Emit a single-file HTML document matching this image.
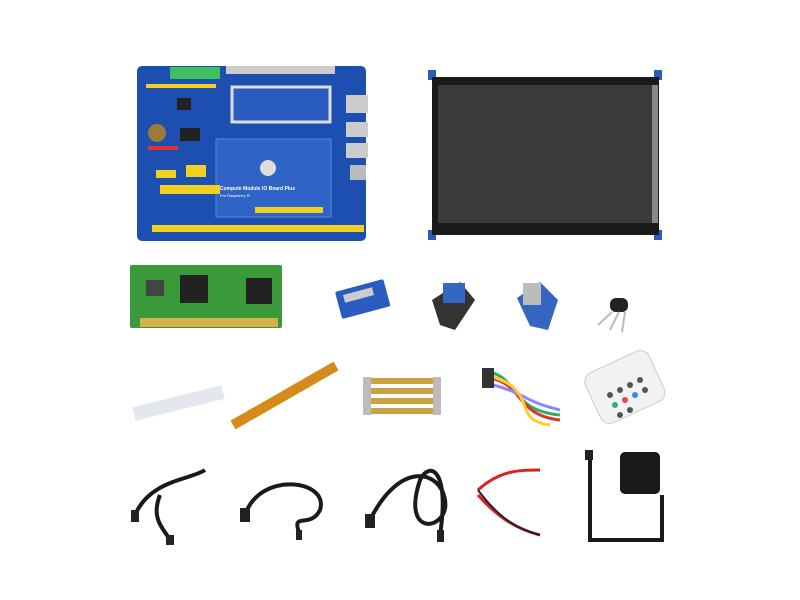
<!DOCTYPE html>
<html><head><style>body{margin:0;background:#fff}svg{display:block}</style></head><body>
<svg width="800" height="600" viewBox="0 0 800 600" xmlns="http://www.w3.org/2000/svg" font-family="Liberation Sans, sans-serif">
<!-- IO board -->
<rect x="137" y="66" width="229" height="175" rx="5" fill="#1d4fb0"/>
<rect x="170" y="67" width="50" height="12" fill="#3fbf5f"/>
<rect x="226" y="66" width="28" height="8" fill="#ccc"/><rect x="253" y="66" width="28" height="8" fill="#ccc"/><rect x="280" y="66" width="28" height="8" fill="#ccc"/><rect x="307" y="66" width="28" height="8" fill="#ccc"/>
<rect x="232" y="87" width="98" height="35" fill="#2a5cc0" stroke="#ddd" stroke-width="3"/>
<rect x="146" y="84" width="70" height="4" fill="#f2d020"/>
<rect x="346" y="95" width="22" height="18" fill="#ccc"/><rect x="346" y="122" width="22" height="15" fill="#ccc"/><rect x="346" y="143" width="22" height="15" fill="#ccc"/><rect x="350" y="165" width="16" height="15" fill="#bbb"/>
<rect x="216" y="139" width="115" height="78" fill="#2f63c6" stroke="#5a86d8"/>
<circle cx="268" cy="168" r="8" fill="#ddd"/>
<circle cx="157" cy="133" r="9" fill="#9c7b3a"/>
<rect x="180" y="128" width="20" height="13" fill="#222"/><rect x="177" y="98" width="14" height="12" fill="#222"/>
<rect x="160" y="185" width="60" height="9" fill="#f2d020"/><rect x="156" y="170" width="20" height="8" fill="#f2d020"/><rect x="186" y="165" width="20" height="12" fill="#f2d020"/>
<rect x="148" y="146" width="30" height="4" fill="#d33"/>
<rect x="255" y="207" width="68" height="6" fill="#f2d020"/>
<rect x="152" y="225" width="212" height="7" fill="#f2d020"/>
<text x="220" y="190" font-size="5" fill="#fff" font-weight="bold">Compute Module IO Board Plus</text>
<text x="220" y="197" font-size="4" fill="#fff">For Raspberry Pi</text>
<!-- display -->
<rect x="428" y="70" width="8" height="10" fill="#2a5cc0"/><rect x="654" y="70" width="8" height="10" fill="#2a5cc0"/><rect x="428" y="230" width="8" height="10" fill="#2a5cc0"/><rect x="654" y="230" width="8" height="10" fill="#2a5cc0"/>
<rect x="432" y="77" width="227" height="158" fill="#1a1a1a"/>
<rect x="438" y="85" width="214" height="138" fill="#3b3b3b"/>
<rect x="652" y="85" width="6" height="138" fill="#888"/>
<!-- compute module -->
<rect x="130" y="265" width="152" height="63" rx="2" fill="#3a9a3a"/>
<rect x="140" y="318" width="138" height="9" fill="#d6b24a"/>
<rect x="180" y="275" width="28" height="28" fill="#222"/><rect x="246" y="278" width="26" height="26" fill="#222"/><rect x="146" y="280" width="18" height="16" fill="#444"/>
<!-- adapters row -->
<rect x="338" y="285" width="50" height="28" rx="2" fill="#2a5cc0" transform="rotate(-15 363 300)"/>
<rect x="345" y="290" width="30" height="8" fill="#ccc" transform="rotate(-15 363 300)"/>
<path d="M432 300 L460 282 L475 300 L455 330 L440 325 Z" fill="#333"/><rect x="443" y="283" width="22" height="20" fill="#3566c4"/>
<path d="M517 298 L540 282 L558 300 L548 330 L530 326 Z" fill="#3566c4"/><rect x="523" y="283" width="18" height="22" fill="#bbb"/>
<rect x="610" y="298" width="18" height="14" rx="6" fill="#222"/>
<path d="M612 312 L598 325 M619 312 L610 330 M625 312 L622 332" stroke="#bbb" stroke-width="2"/>
<!-- row 3 -->
<path d="M134 414 L223 392" stroke="#e4e8ee" stroke-width="14"/>
<path d="M233 425 L336 366" stroke="#d68a1a" stroke-width="10"/>
<g fill="#c9a243"><rect x="370" y="378" width="64" height="6"/><rect x="370" y="388" width="64" height="6"/><rect x="370" y="398" width="64" height="6"/><rect x="370" y="408" width="64" height="6"/></g>
<g fill="#bbb"><rect x="363" y="377" width="8" height="38"/><rect x="433" y="377" width="8" height="38"/></g>
<path d="M490 372 C520 380 510 410 560 415" stroke="#3a6" stroke-width="3" fill="none"/><path d="M490 378 C525 385 515 415 560 420" stroke="#d33" stroke-width="3" fill="none"/><path d="M490 384 C530 395 520 400 560 410" stroke="#88f" stroke-width="3" fill="none"/><path d="M490 376 C540 390 510 420 550 425" stroke="#fc3" stroke-width="3" fill="none"/>
<rect x="482" y="368" width="12" height="20" fill="#333"/>
<rect x="592" y="360" width="70" height="55" rx="10" fill="#f2f2f2" stroke="#ccc" transform="rotate(-25 625 392)"/>
<g fill="#555"><circle cx="610" cy="395" r="3"/><circle cx="620" cy="390" r="3"/><circle cx="630" cy="385" r="3"/><circle cx="640" cy="380" r="3"/><circle cx="615" cy="405" r="3" fill="#3a8"/><circle cx="625" cy="400" r="3" fill="#e44"/><circle cx="635" cy="395" r="3" fill="#48d"/><circle cx="645" cy="390" r="3"/><circle cx="620" cy="415" r="3"/><circle cx="630" cy="410" r="3"/></g>
<!-- row 4 cables -->
<g fill="none" stroke="#1a1a1a" stroke-width="4">
<path d="M135 515 C150 480 190 480 205 470 M160 495 C150 520 165 530 170 540"/>
<path d="M245 515 C260 470 330 480 320 510 C310 530 290 510 300 535"/>
<path d="M370 520 C400 460 440 470 445 500 C450 530 400 540 420 480 C430 460 450 470 440 535"/>
<path d="M590 455 L590 540 L662 540 L662 495"/>
</g>
<g fill="#222"><rect x="131" y="510" width="8" height="12"/><rect x="166" y="535" width="8" height="10"/><rect x="240" y="508" width="10" height="14"/><rect x="296" y="530" width="6" height="10"/><rect x="365" y="514" width="10" height="14"/><rect x="437" y="530" width="7" height="12"/><rect x="585" y="450" width="8" height="10"/></g>
<path d="M478 490 C500 470 520 470 540 470 M478 495 C500 520 520 530 540 535" stroke="#d22" stroke-width="3" fill="none"/>
<path d="M478 490 C500 520 520 530 540 535" stroke="#222" stroke-width="2" fill="none"/>
<rect x="620" y="452" width="40" height="42" rx="5" fill="#1a1a1a"/>
</svg>
</body></html>
